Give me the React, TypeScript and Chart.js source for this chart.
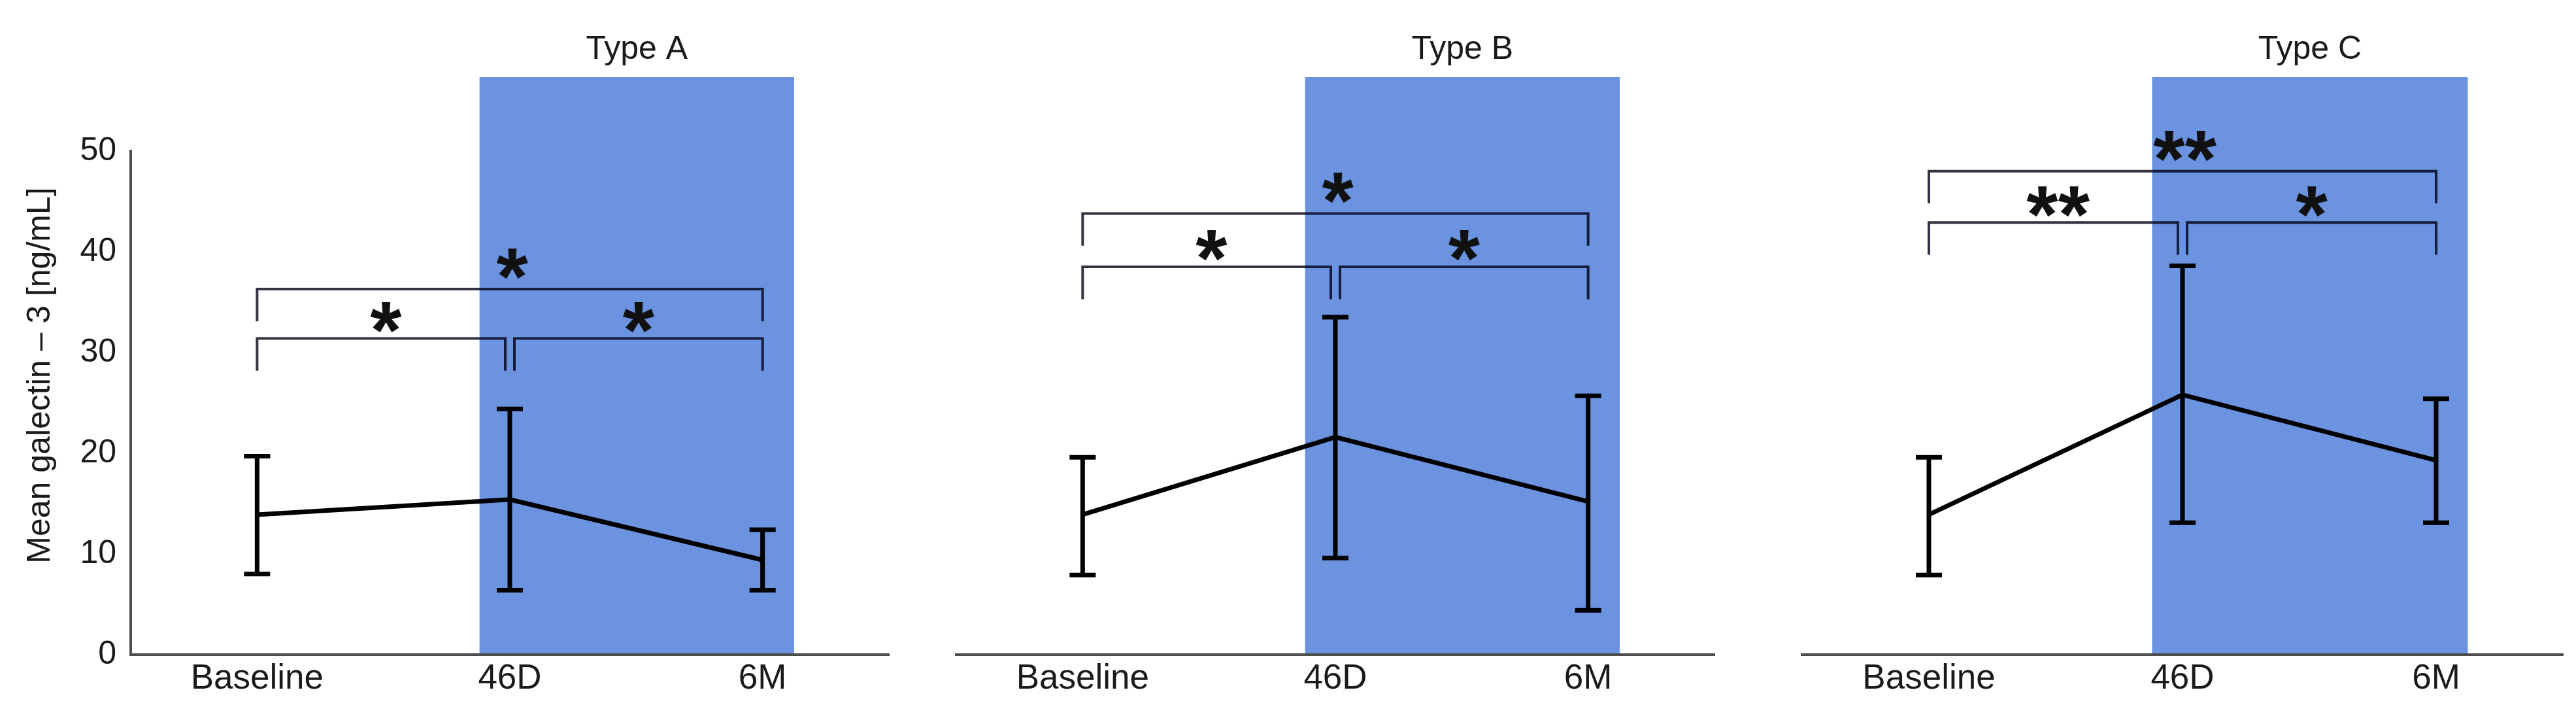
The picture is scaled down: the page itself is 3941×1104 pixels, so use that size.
import React, { useEffect, useRef } from 'react';
import { Chart, registerables } from 'chart.js';

Chart.register(...registerables);

// ---------- data ----------
const categories = ['Baseline', '46D', '6M'];
const panelTitles = ['Type A', 'Type B', 'Type C'];
const yTicks = [0, 10, 20, 30, 40, 50];
const yAxisTitle = 'Mean galectin – 3 [ng/mL]';

const meanA = [13.9, 15.4, 9.4];
const upperA = [19.7, 24.4, 12.4];
const lowerA = [8.0, 6.4, 6.4];

const meanB = [13.9, 21.6, 15.2];
const upperB = [19.6, 33.5, 25.7];
const lowerB = [7.9, 9.6, 4.4];

const meanC = [13.9, 25.8, 19.3];
const upperC = [19.6, 38.6, 25.4];
const lowerC = [7.9, 13.1, 13.1];

// significance brackets (y level in ng/mL) and their labels
const bracketOuter = [36.3, 43.8, 48.0];
const bracketInner = [31.4, 38.5, 42.9];
const starsOuter = ['*', '*', '**'];
const starsLeft = ['*', '*', '**'];
const starsRight = ['*', '*', '*'];

const means = [meanA, meanB, meanC];
const uppers = [upperA, upperB, upperC];
const lowers = [lowerA, lowerB, lowerC];

// ---------- layout / style ----------
const H = 1104;
const FONT = '"Liberation Sans", Arial, sans-serif';
const BLUE = '#6b93e0';
const TEXT = '#1a1a1a';
const AXIS = '#4d4d4d';
const BRACKET = 'rgba(0,0,20,0.8)';
const LEG = 3.2; // bracket leg length in data units
const STAR_OFF = 2.3;

const layouts = [
  { left: 0, width: 1380, padLeft: 0, padRight: 20, showY: true },
  { left: 1380, width: 1300, padLeft: 83, padRight: 57, showY: false },
  { left: 2680, width: 1261, padLeft: 77, padRight: 20, showY: false },
];

function drawStar(ctx: CanvasRenderingContext2D, text: string, cx: number, cy: number) {
  ctx.save();
  ctx.font = `bold 124px ${FONT}`;
  ctx.fillStyle = '#111';
  ctx.textAlign = 'left';
  ctx.textBaseline = 'alphabetic';
  const m = ctx.measureText(text);
  const inkW = m.actualBoundingBoxLeft + m.actualBoundingBoxRight;
  const x = cx - inkW / 2 + m.actualBoundingBoxLeft;
  const y = cy - (m.actualBoundingBoxDescent - m.actualBoundingBoxAscent) / 2;
  ctx.fillText(text, x, y);
  ctx.restore();
}

function makePlugin(idx: number) {
  return {
    id: 'panelDecor' + idx,
    beforeDraw(chart: any) {
      const { ctx, chartArea, scales } = chart;
      const x = scales.x;
      const step = x.getPixelForValue(1) - x.getPixelForValue(0);
      const x0 = x.getPixelForValue(1) - 0.12 * step;
      const x1 = x.getPixelForValue(2) + 0.125 * step;
      const top = chartArea.top - 113;
      ctx.save();
      ctx.fillStyle = BLUE;
      ctx.fillRect(x0, top, x1 - x0, chartArea.bottom - top);
      ctx.font = `50px ${FONT}`;
      ctx.fillStyle = TEXT;
      ctx.textAlign = 'center';
      ctx.textBaseline = 'middle';
      ctx.fillText(panelTitles[idx], (x0 + x1) / 2, chartArea.top - 155);
      ctx.restore();
    },
    afterDatasetsDraw(chart: any) {
      const { ctx, scales } = chart;
      const x = scales.x;
      const y = scales.y;
      ctx.save();
      ctx.strokeStyle = '#000';
      ctx.lineWidth = 7;
      ctx.lineCap = 'butt';
      for (let i = 0; i < categories.length; i++) {
        const px = x.getPixelForValue(i);
        const t = y.getPixelForValue(uppers[idx][i]);
        const b = y.getPixelForValue(lowers[idx][i]);
        ctx.beginPath();
        ctx.moveTo(px, t);
        ctx.lineTo(px, b);
        ctx.moveTo(px - 20, t);
        ctx.lineTo(px + 20, t);
        ctx.moveTo(px - 20, b);
        ctx.lineTo(px + 20, b);
        ctx.stroke();
      }
      ctx.restore();
    },
    afterDraw(chart: any) {
      const { ctx, chartArea, scales } = chart;
      const x = scales.x;
      const y = scales.y;
      const bx = [0, 1, 2].map((i) => x.getPixelForValue(i));
      const outer = bracketOuter[idx];
      const inner = bracketInner[idx];
      ctx.save();
      ctx.strokeStyle = BRACKET;
      ctx.lineWidth = 4;
      ctx.lineJoin = 'miter';
      const bracket = (xa: number, xb: number, v: number) => {
        ctx.beginPath();
        ctx.moveTo(xa, y.getPixelForValue(v - LEG));
        ctx.lineTo(xa, y.getPixelForValue(v));
        ctx.lineTo(xb, y.getPixelForValue(v));
        ctx.lineTo(xb, y.getPixelForValue(v - LEG));
        ctx.stroke();
      };
      bracket(bx[0], bx[2], outer);
      bracket(bx[0], bx[1] - 7, inner);
      bracket(bx[1] + 7, bx[2], inner);
      ctx.restore();

      drawStar(ctx, starsOuter[idx], bx[1] + 4, y.getPixelForValue(outer + STAR_OFF + 0.2));
      drawStar(ctx, starsLeft[idx], (bx[0] + bx[1]) / 2 + 4, y.getPixelForValue(inner + STAR_OFF - 0.2));
      drawStar(ctx, starsRight[idx], (bx[1] + bx[2]) / 2 + 4, y.getPixelForValue(inner + STAR_OFF - 0.2));

      if (layouts[idx].showY) {
        ctx.save();
        ctx.translate(62, (chartArea.top + chartArea.bottom) / 2 - 42);
        ctx.rotate(-Math.PI / 2);
        ctx.font = `50px ${FONT}`;
        ctx.fillStyle = TEXT;
        ctx.textAlign = 'center';
        ctx.textBaseline = 'middle';
        ctx.fillText(yAxisTitle, 0, 0);
        ctx.restore();
      }
    },
  };
}

function Panel({ idx }: { idx: number }) {
  const ref = useRef<HTMLCanvasElement | null>(null);
  const lay = layouts[idx];
  useEffect(() => {
    if (!ref.current) return;
    const chart = new Chart(ref.current, {
      type: 'line',
      data: {
        labels: categories,
        datasets: [
          {
            data: means[idx],
            borderColor: '#000',
            borderWidth: 7,
            pointRadius: 0,
            tension: 0,
            fill: false,
            clip: false as any,
          },
        ],
      },
      options: {
        responsive: false,
        animation: false,
        devicePixelRatio: 1,
        layout: { padding: { top: 231, bottom: 0, left: lay.padLeft, right: lay.padRight } },
        plugins: { legend: { display: false }, tooltip: { enabled: false }, title: { display: false } },
        scales: {
          x: {
            type: 'category',
            offset: true,
            grid: { display: false, drawTicks: false },
            border: { display: true, color: AXIS, width: 4 },
            ticks: {
              font: { family: FONT, size: 53 },
              color: TEXT,
              padding: 6,
              maxRotation: 0,
              autoSkip: false,
            },
            afterFit: (s: any) => {
              s.height = 103;
            },
          },
          y: {
            display: lay.showY,
            min: yTicks[0],
            max: yTicks[yTicks.length - 1],
            grid: { display: false, drawTicks: false },
            border: { display: true, color: AXIS, width: 4 },
            afterBuildTicks: (s: any) => {
              s.ticks = yTicks.map((v) => ({ value: v }));
            },
            ticks: {
              font: { family: FONT, size: 50 },
              color: TEXT,
              padding: 22,
            },
            afterFit: (s: any) => {
              s.width = lay.showY ? 200 : 0;
            },
          },
        },
      },
      plugins: [makePlugin(idx)],
    } as any);
    return () => chart.destroy();
  }, [idx]);
  return (
    <canvas
      ref={ref}
      width={lay.width}
      height={H}
      style={{ position: 'absolute', left: lay.left, top: 0, width: lay.width, height: H }}
    />
  );
}

export default function App() {
  return (
    <div style={{ position: 'absolute', left: 0, top: 0, width: 3941, height: H, background: '#fff', overflow: 'hidden' }}>
      <Panel idx={0} />
      <Panel idx={1} />
      <Panel idx={2} />
    </div>
  );
}
